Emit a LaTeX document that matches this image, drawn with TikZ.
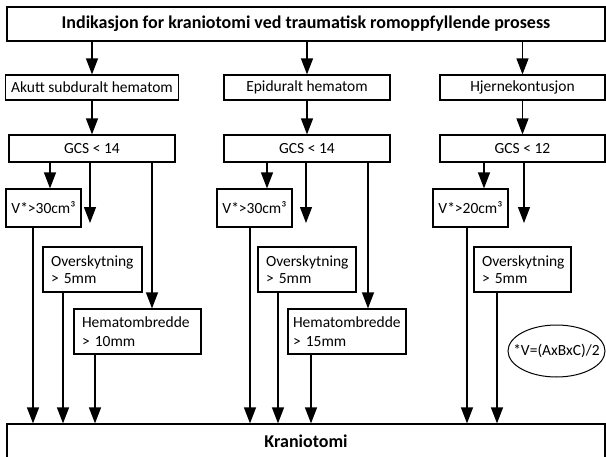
\documentclass[tikz,border=0pt]{standalone}
\usepackage{fontspec}
\setmainfont{Carlito}
\usetikzlibrary{positioning}
\usetikzlibrary{arrows.meta}
\usetikzlibrary{shapes.geometric}

\begin{document}
\begin{tikzpicture}[
		x=1pt, y=-1pt,
		font=\fontsize{15.5}{17}\selectfont,
		box/.style={rectangle, draw, line width=1.2pt, inner sep=0pt, align=center},
		headbox/.style={box, minimum width=598pt, minimum height=34pt, font=\fontsize{18}{20}\selectfont\bfseries},
		txtbox/.style={rectangle, draw, line width=1.2pt, inner xsep=8pt, inner ysep=0pt, align=left},
		arrow/.style={-{Triangle[length=16pt, width=12pt]}, line width=1.2pt}
	]
	\useasboundingbox (0,0) rectangle (606,456);

	% Header and diagnoses
	\node[headbox] (title) at (306,24) {Indikasjon for kraniotomi ved traumatisk romoppfyllende prosess};
	\node[box, minimum width=173pt, minimum height=25pt] (akutt) at (92,87.5) {Akutt subduralt hematom};
	\node[box, minimum width=166pt, minimum height=25pt] (epi) at (307,87.5) {Epiduralt hematom};
	\node[box, minimum width=165pt, minimum height=25pt] (hjerne) at (522.5,87.5) {Hjernekontusjon};

	\draw[arrow] (title.south -| akutt.north) -- (akutt.north);
	\draw[arrow] (title.south -| epi.north) -- (epi.north);
	\draw[arrow] (title.south -| hjerne.north) -- (hjerne.north);

	% GCS
	\node[box, minimum width=166pt, minimum height=27pt] (gcs1) at (92,148.5) {GCS < 14};
	\node[box, minimum width=166pt, minimum height=27pt] (gcs2) at (307,148.5) {GCS < 14};
	\node[box, minimum width=165pt, minimum height=27pt] (gcs3) at (522.5,148.5) {GCS < 12};

	\draw[arrow] (akutt.south) -- (gcs1.north);
	\draw[arrow] (epi.south) -- (gcs2.north);
	\draw[arrow] (hjerne.south) -- (gcs3.north);

	% Criteria
	\node[box, minimum width=75pt, minimum height=38pt] (v1) at (43.5,208) {V*>30cm³};
	\node[box, minimum width=75pt, minimum height=38pt] (v2) at (254.5,208) {V*>30cm³};
	\node[box, minimum width=75pt, minimum height=38pt] (v3) at (470.5,208) {V*>20cm³};

	\node[txtbox, text width=83pt, minimum height=45pt] (o1) at (92.5,269.5) {Overskytning\\> 5mm};
	\node[txtbox, text width=82pt, minimum height=45pt] (o2) at (307,269.5) {Overskytning\\> 5mm};
	\node[txtbox, text width=81pt, minimum height=45pt] (o3) at (522.5,269.5) {Overskytning\\> 5mm};

	\node[txtbox, text width=111pt, minimum height=45pt, font=\fontsize{15.5}{19}\selectfont] (h1) at (137.5,331.5) {Hematombredde\\> 10mm};
	\node[txtbox, text width=108pt, inner xsep=5pt, minimum height=45pt, font=\fontsize{15.5}{19}\selectfont] (h2) at (347,331.5) {Hematombredde\\> 15mm};

	\node[ellipse, draw, line width=1pt, inner xsep=-10pt, inner ysep=10pt, minimum width=97pt, minimum height=52pt] (formel) at (556.5,351) {*V=(AxBxC)/2};

	\coordinate (e1) at (90,223);
	\coordinate (e2) at (306,223);
	\coordinate (e3) at (524,223);

	\draw[arrow] ([xshift=6.5pt]v1.north |- gcs1.south) -- ([xshift=6.5pt]v1.north);
	\draw[arrow] (e1 |- gcs1.south) -- (e1);
	\draw[arrow] ([xshift=14.5pt]h1.north |- gcs1.south) -- ([xshift=14.5pt]h1.north);

	\draw[arrow] ([xshift=12.5pt]v2.north |- gcs2.south) -- ([xshift=12.5pt]v2.north);
	\draw[arrow] (e2 |- gcs2.south) -- (e2);
	\draw[arrow] ([xshift=21pt]h2.north |- gcs2.south) -- ([xshift=21pt]h2.north);

	\draw[arrow] ([xshift=13.5pt]v3.north |- gcs3.south) -- ([xshift=13.5pt]v3.north);
	\draw[arrow] (e3 |- gcs3.south) -- (e3);

	% Result
	\node[headbox] (krani) at (306,441) {Kraniotomi};

	\draw[arrow] ([xshift=-10.5pt]v1.south) -- ([xshift=-10.5pt]v1.south |- krani.north);
	\draw[arrow] ([xshift=-29.5pt]o1.south) -- ([xshift=-29.5pt]o1.south |- krani.north);
	\draw[arrow] ([xshift=-42.5pt]h1.south) -- ([xshift=-42.5pt]h1.south |- krani.north);

	\draw[arrow] ([xshift=-4.5pt]v2.south) -- ([xshift=-4.5pt]v2.south |- krani.north);
	\draw[arrow] ([xshift=-29pt]o2.south) -- ([xshift=-29pt]o2.south |- krani.north);
	\draw[arrow] ([xshift=-36pt]h2.south) -- ([xshift=-36pt]h2.south |- krani.north);

	\draw[arrow] ([xshift=-3.5pt]v3.south) -- ([xshift=-3.5pt]v3.south |- krani.north);
	\draw[arrow] ([xshift=-25.5pt]o3.south) -- ([xshift=-25.5pt]o3.south |- krani.north);

\end{tikzpicture}
\end{document}
